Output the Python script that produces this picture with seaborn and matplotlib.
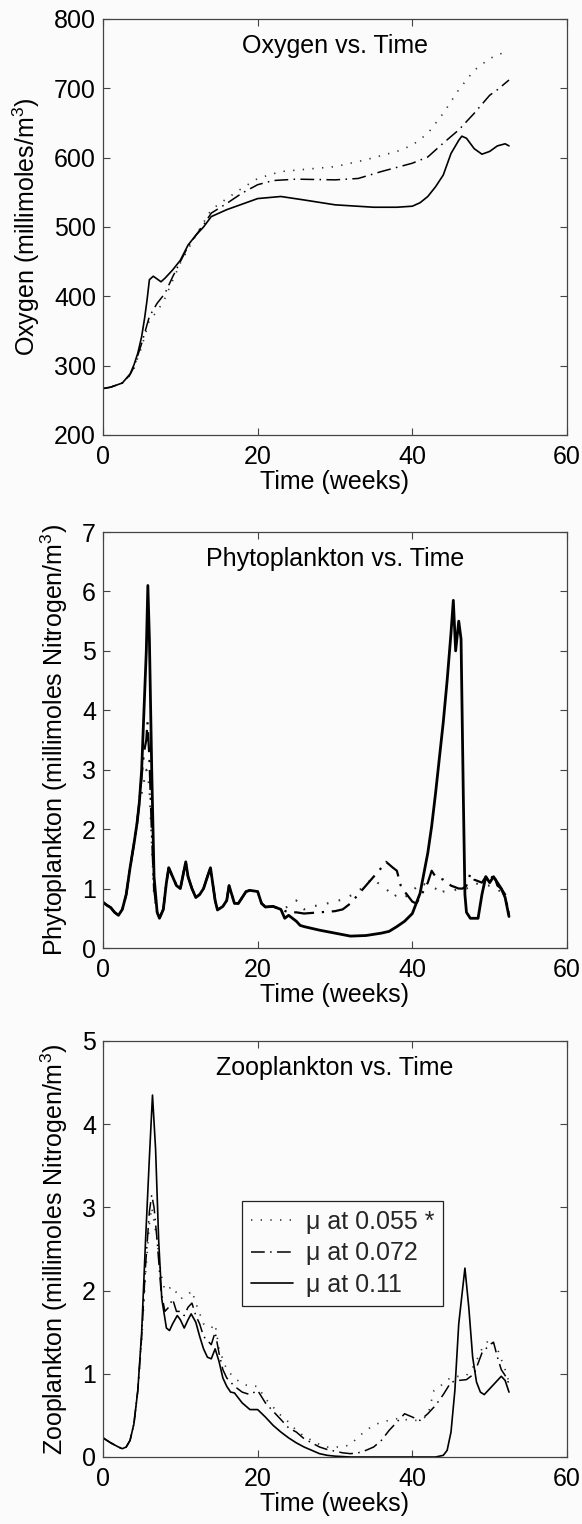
import matplotlib
matplotlib.use("Agg")
import matplotlib.pyplot as plt
import seaborn as sns
import numpy as np

# ---------------- data ----------------
# Oxygen (millimoles/m^3)
ox_t_011 = [0, 1, 2.5, 3.5, 4, 4.5, 5, 5.4, 5.7, 6, 6.5, 7, 7.5, 8, 9, 10, 11, 12, 13, 14, 15, 16, 18, 20,
            23, 26, 30, 35, 38, 40, 41, 42, 43, 44, 45, 46, 46.4, 47, 48, 49, 50, 51, 52, 52.5]
ox_011 = [267, 269, 275, 288, 301, 318, 342, 370, 395, 424, 429, 425, 421, 426, 438, 452, 474, 488, 500, 515,
          520, 525, 533, 541, 544, 539, 532, 528.5, 528.5, 530, 535, 544, 558, 575, 606, 625, 631, 628, 613,
          605, 609, 617, 620, 617]
ox_t_072 = [0, 1, 2.5, 3.5, 4, 5, 6, 7, 8, 9, 10, 11, 12, 13, 14, 16, 18, 20, 22, 25, 30, 33, 36, 40, 42,
            44, 46, 48, 50, 51, 52.5]
ox_072 = [267, 269, 275, 287, 298, 332, 371, 390, 404, 428, 450, 472, 488, 503, 520, 534, 549, 561, 567,
          569, 568, 570, 580, 592, 601, 621, 640, 664, 690, 698, 712]
ox_t_055 = [0, 1, 2.5, 3.5, 4, 5, 6, 7, 8, 10, 12, 14, 16, 18, 20, 23, 26, 30, 34, 38, 40, 42, 44, 46, 48,
            50, 52.5]
ox_055 = [267, 269, 275, 286, 296, 327, 366, 378, 397, 448, 488, 525, 541, 556, 570, 580, 583, 587, 597,
          609, 618, 635, 664, 698, 726, 743, 755]

# Phytoplankton (millimoles Nitrogen/m^3)
phy_t_early = [0, 0.5, 1, 1.5, 2, 2.5, 3, 3.5, 4, 4.4, 4.7]
phy_early = [0.77, 0.72, 0.68, 0.6, 0.55, 0.65, 0.9, 1.35, 1.75, 2.1, 2.45]
phy_t_mid = [7, 7.3, 7.8, 8.2, 8.5, 9, 9.5, 10, 10.7, 11, 11.5, 12, 12.5, 13, 13.5, 13.9, 14.5, 14.8,
             15.5, 16, 16.3, 17, 17.5, 18, 18.5, 19, 20, 20.5, 21, 22, 23]
phy_mid = [0.6, 0.5, 0.65, 1.1, 1.35, 1.2, 1.05, 1.0, 1.45, 1.2, 1.0, 0.85, 0.9, 1.0, 1.2, 1.35, 0.8,
           0.64, 0.7, 0.8, 1.05, 0.75, 0.75, 0.85, 0.95, 0.97, 0.95, 0.75, 0.69, 0.7, 0.65]

phy_t_011_peak = [5, 5.3, 5.6, 5.8, 6.0, 6.3, 6.6]
phy_011_peak = [3.0, 4.0, 5.0, 6.1, 5.2, 3.0, 1.2]
phy_t_011_late = [23.5, 24, 25, 25.5, 26, 27, 28, 30, 32, 34, 36, 37, 38, 39, 40, 41, 42, 42.5, 43, 43.5,
                  44, 44.5, 45, 45.3, 45.6, 46, 46.3, 46.6, 46.8, 47, 47.5, 48.5, 49, 49.5, 50, 50.5, 51,
                  51.5, 52, 52.5]
phy_011_late = [0.5, 0.55, 0.45, 0.38, 0.36, 0.33, 0.3, 0.25, 0.2, 0.21, 0.25, 0.28, 0.36, 0.45, 0.58,
                0.92, 1.6, 2.05, 2.6, 3.2, 3.8, 4.5, 5.3, 5.85, 5.0, 5.5, 5.2, 2.5, 0.9, 0.6, 0.5, 0.5,
                0.9, 1.2, 1.1, 1.2, 1.1, 1.0, 0.85, 0.53]

phy_t_072_peak = [5, 5.3, 5.6, 5.75, 6.0, 6.3, 6.6]
phy_072_peak = [2.9, 3.3, 3.5, 3.8, 3.2, 2.0, 1.0]
phy_t_072_late = [24, 25, 26, 28, 30, 31, 32, 33, 34, 35, 36, 36.6, 37.5, 38, 38.5, 39, 40, 40.5, 41, 42,
                  42.5, 43, 44, 45, 46, 46.5, 47, 47.5, 48, 49, 49.5, 50, 50.5, 51, 51.5, 52, 52.5]
phy_072_late = [0.6, 0.6, 0.58, 0.6, 0.62, 0.65, 0.75, 0.9, 1.05, 1.2, 1.35, 1.45, 1.35, 1.3, 1.05, 0.95,
                0.78, 0.75, 0.85, 1.1, 1.3, 1.2, 1.15, 1.05, 1.0, 1.0, 1.05, 1.25, 1.15, 1.1, 1.2, 1.1,
                1.25, 1.05, 1.0, 0.9, 0.55]

phy_t_055_peak = [5, 5.3, 5.6, 5.8, 6.0, 6.3, 6.6]
phy_055_peak = [2.6, 2.8, 3.0, 2.9, 2.7, 1.8, 0.9]
phy_t_055_late = [24, 25, 25.5, 26, 27, 28, 29, 30, 31, 32, 33, 34, 35, 35.5, 36, 37, 37.5, 38, 39, 40,
                  41, 42, 43, 43.5, 44, 45, 46, 47, 48, 49, 50, 51, 52, 52.5]
phy_055_late = [0.7, 0.8, 0.7, 0.65, 0.7, 0.72, 0.75, 0.78, 0.82, 0.88, 0.95, 1.08, 1.18, 1.1, 1.05, 0.95,
                0.85, 0.9, 0.85, 0.95, 1.1, 1.05, 1.0, 0.9, 0.95, 0.95, 1.0, 1.0, 1.1, 1.05, 1.05, 1.0,
                0.85, 0.6]

# Zooplankton (millimoles Nitrogen/m^3)
zoo_t_011 = [0, 1, 2, 2.5, 3, 3.5, 4, 4.5, 5, 5.5, 6, 6.4, 6.8, 7.2, 7.6, 8.2, 8.6, 9, 9.6, 10, 10.5, 11,
             11.4, 12, 12.5, 13, 13.5, 14, 14.5, 15, 15.5, 16, 16.5, 17, 18, 19, 20, 21, 22, 23, 24, 25,
             26, 27, 28, 29, 30, 32, 35, 40, 43, 44, 44.5, 45, 45.5, 46, 46.8, 47.3, 47.8, 48.3, 48.8,
             49.3, 50, 50.5, 51, 51.5, 52, 52.5]
zoo_011 = [0.23, 0.17, 0.12, 0.10, 0.12, 0.2, 0.4, 0.8, 1.5, 2.6, 3.6, 4.35, 3.7, 2.6, 1.9, 1.55, 1.52,
           1.6, 1.7, 1.65, 1.55, 1.65, 1.72, 1.62, 1.45, 1.3, 1.2, 1.18, 1.3, 1.15, 0.95, 0.85, 0.78, 0.77,
           0.65, 0.57, 0.57, 0.48, 0.38, 0.3, 0.23, 0.17, 0.12, 0.08, 0.04, 0.02, 0.01, 0.0, 0.0, 0.0, 0.0,
           0.02, 0.08, 0.3, 0.8, 1.6, 2.27, 1.8, 1.2, 0.9, 0.78, 0.75, 0.82, 0.87, 0.92, 0.97, 0.92, 0.78]
zoo_t_072 = [0, 1, 2, 2.5, 3, 3.5, 4, 4.5, 5, 5.5, 6, 6.3, 6.6, 7, 7.5, 8, 8.5, 9, 9.5, 10, 10.5, 11,
             11.5, 12, 12.5, 13, 14, 14.5, 15, 15.5, 16, 17, 18, 19, 20, 21, 22, 23, 24, 25, 26, 27, 28,
             29, 30, 31, 32, 33, 34, 35, 36, 37, 38, 39, 40, 41, 42, 43, 44, 45, 46, 47, 48, 49, 50,
             50.5, 51, 51.5, 52, 52.5]
zoo_072 = [0.23, 0.17, 0.12, 0.10, 0.12, 0.2, 0.4, 0.8, 1.45, 2.3, 2.95, 3.15, 3.0, 2.6, 2.0, 1.75, 1.8,
           1.9, 1.75, 1.75, 1.7, 1.8, 1.85, 1.7, 1.6, 1.45, 1.35, 1.5, 1.25, 1.05, 0.95, 0.85, 0.78, 0.75,
           0.8, 0.65, 0.55, 0.45, 0.35, 0.3, 0.22, 0.17, 0.12, 0.09, 0.07, 0.05, 0.04, 0.05, 0.08, 0.12,
           0.2, 0.32, 0.42, 0.52, 0.48, 0.44, 0.52, 0.62, 0.75, 0.9, 0.92, 0.93, 1.0, 1.25, 1.35, 1.38,
           1.2, 1.05, 0.98, 0.88]
zoo_t_055 = [0, 1, 2, 2.5, 3, 3.5, 4, 4.5, 5, 5.5, 6, 6.3, 7, 7.5, 8, 9, 10, 11, 11.5, 12, 13, 14, 14.5,
             15, 16, 17, 18, 19, 20, 21, 22, 23, 24, 25, 26, 27, 28, 29, 30, 31, 32, 33, 34, 35, 36, 37,
             38, 39, 40, 41, 42, 42.8, 44, 45, 46, 47, 48, 49, 50, 51, 52, 52.5]
zoo_055 = [0.23, 0.17, 0.12, 0.10, 0.12, 0.2, 0.4, 0.8, 1.4, 2.2, 2.8, 3.0, 2.6, 2.2, 2.0, 2.05, 1.9, 1.95,
           2.0, 1.85, 1.6, 1.55, 1.6, 1.3, 1.05, 0.95, 0.88, 0.85, 0.85, 0.7, 0.6, 0.5, 0.42, 0.32, 0.25,
           0.2, 0.15, 0.12, 0.12, 0.12, 0.15, 0.24, 0.32, 0.38, 0.42, 0.44, 0.46, 0.45, 0.44, 0.44, 0.5,
           0.8, 0.88, 0.96, 0.97, 0.98, 1.1, 1.3, 1.42, 1.3, 1.05, 0.9]

legend_labels = ["\u03bc at 0.055 *", "\u03bc at 0.072", "\u03bc at 0.11"]
titles = ["Oxygen vs. Time", "Phytoplankton vs. Time", "Zooplankton vs. Time"]
ylabels = ["Oxygen (millimoles/m$^3$)", "Phytoplankton (millimoles Nitrogen/m$^3$)",
           "Zooplankton (millimoles Nitrogen/m$^3$)"]
xlabel = "Time (weeks)"
xticks = [0, 20, 40, 60]
yticks_list = [[200, 300, 400, 500, 600, 700, 800], [0, 1, 2, 3, 4, 5, 6, 7], [0, 1, 2, 3, 4, 5]]

# ---------------- style ----------------
sns.set_theme(style="ticks")
plt.rcParams["font.family"] = ["Liberation Sans", "DejaVu Sans"]
plt.rcParams["mathtext.fontset"] = "custom"
plt.rcParams["mathtext.rm"] = "Liberation Sans"
plt.rcParams["mathtext.it"] = "Liberation Sans:italic"
plt.rcParams["mathtext.bf"] = "Liberation Sans:bold"

FS = 18
BG = "#fbfbfb"
FRAME = "#444444"

fig = plt.figure(figsize=(5.82, 15.24), dpi=100, facecolor=BG)
left, width, height = 103 / 582, 464 / 582, 416 / 1524
bottoms = [1 - 435 / 1524, 1 - 948 / 1524, 1 - 1457 / 1524]
axes = [fig.add_axes([left, b, width, height]) for b in bottoms]

DOT = (0, (0.8, 5))
DASHDOT = (0, (9, 3.5, 1, 3.5))


def draw(ax, t, v, ls, lw, label=None, color="black"):
    sns.lineplot(x=np.asarray(t, float), y=np.asarray(v, float), ax=ax, color=color,
                 linestyle=ls, linewidth=lw, label=label, estimator=None, sort=False)


# Oxygen
ax = axes[0]
draw(ax, ox_t_055, ox_055, DOT, 1.2, color="#333333")
draw(ax, ox_t_072, ox_072, DASHDOT, 1.1)
draw(ax, ox_t_011, ox_011, "-", 1.2)

# Phytoplankton
ax = axes[1]
t055 = phy_t_early + phy_t_055_peak + phy_t_mid + phy_t_055_late
v055 = phy_early + phy_055_peak + phy_mid + phy_055_late
t072 = phy_t_early + phy_t_072_peak + phy_t_mid + phy_t_072_late
v072 = phy_early + phy_072_peak + phy_mid + phy_072_late
t011 = phy_t_early + phy_t_011_peak + phy_t_mid + phy_t_011_late
v011 = phy_early + phy_011_peak + phy_mid + phy_011_late
draw(ax, t055, v055, DOT, 1.5, color="#333333")
draw(ax, t072, v072, DASHDOT, 1.6)
draw(ax, t011, v011, "-", 2.0)

# Zooplankton
ax = axes[2]
draw(ax, zoo_t_055, zoo_055, DOT, 1.2, legend_labels[0], color="#333333")
draw(ax, zoo_t_072, zoo_072, DASHDOT, 1.1, legend_labels[1])
draw(ax, zoo_t_011, zoo_011, "-", 1.2, legend_labels[2])

for ax, title, yl, yt in zip(axes, titles, ylabels, yticks_list):
    ax.set_facecolor(BG)
    ax.set_xlim(0, 60)
    ax.set_ylim(yt[0], yt[-1])
    ax.set_xticks(xticks)
    ax.set_yticks(yt)
    ax.set_xticklabels([str(x) for x in xticks])
    ax.set_yticklabels([str(y) for y in yt])
    ax.tick_params(axis="both", direction="in", length=5, width=0.8, color=FRAME,
                   labelsize=FS, labelcolor="black", top=True, right=True)
    ax.tick_params(axis="x", pad=7)
    ax.tick_params(axis="y", pad=5)
    for s in ax.spines.values():
        s.set_visible(True)
        s.set_color(FRAME)
        s.set_linewidth(0.9)
    ax.set_xlabel(xlabel, fontsize=FS, labelpad=1, color="black")
    ax.set_ylabel(yl, fontsize=FS, labelpad=9, color="black")
    ax.text(0.5, 0.935, title, transform=ax.transAxes, ha="center", va="center",
            fontsize=FS, color="black")

leg = axes[2].legend(loc="upper left", bbox_to_anchor=(0.2996, 0.615), borderaxespad=0,
                     fontsize=FS, frameon=True, fancybox=False, framealpha=1,
                     edgecolor="#222222", facecolor=BG, handlelength=1.7,
                     handletextpad=0.5, borderpad=0.35, labelspacing=0.3)
leg.get_frame().set_linewidth(0.9)

fig.savefig("out.png", dpi=100, facecolor=BG)
